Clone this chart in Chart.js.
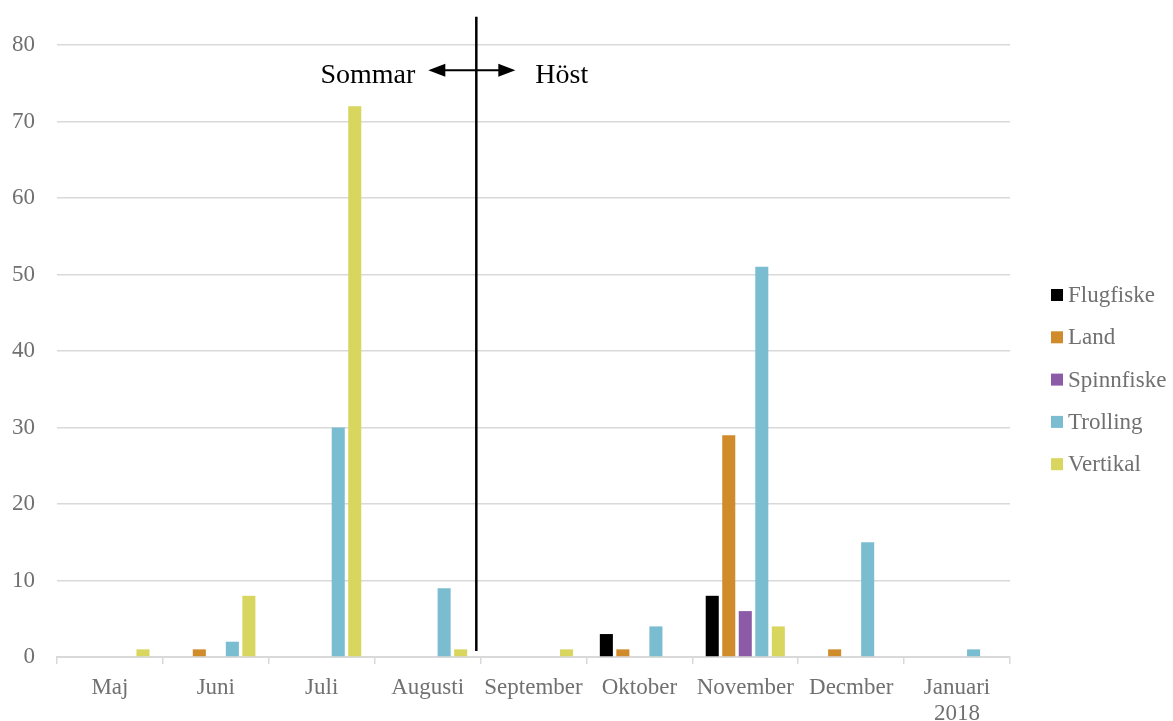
<!DOCTYPE html>
<html>
<head>
<meta charset="utf-8">
<script src="https://cdn.jsdelivr.net/npm/chart.js@4/dist/chart.umd.min.js"></script>
<style>
    body { margin: 0; background: #ffffff; }
    #wrap { width: 1173px; height: 721px; }
</style>
</head>
<body>
<div id="wrap"><canvas id="fangstChart" width="1173" height="721"></canvas></div>
<script>

// Månader (x-axel)
const months = ["Maj", "Juni", "Juli", "Augusti", "September", "Oktober", "November", "Decmber", ["Januari", "2018"]];

// Antal per fiskemetod och månad
const flugfiske  = [0, 0, 0, 0, 0, 3, 8, 0, 0];
const land       = [0, 1, 0, 0, 0, 1, 29, 1, 0];
const spinnfiske = [0, 0, 0, 0, 0, 0, 6, 0, 0];
const trolling   = [0, 2, 30, 9, 0, 4, 51, 15, 1];
const vertikal   = [1, 8, 72, 1, 1, 0, 4, 0, 0];

const yTicks = { min: 0, max: 80, step: 10 };

const TEXT_GRAY = "#707070";
const GRID_GRAY = "#d9d9d9";
const SERIF = "'Liberation Serif', 'Times New Roman', serif";

/* ==========================================================
   SÄSONGSGRÄNS: linje + pilar mellan Augusti och September
========================================================== */

const seasonPlugin = {

    id: "seasonDivider",

    afterDatasetsDraw(chart) {

        const { ctx, scales: { x, y } } = chart;

        const lineX = x.getPixelForValue(3.46);
        const top = y.getPixelForValue(83.7);
        const bottom = y.getPixelForValue(0.8);
        const arrowY = y.getPixelForValue(76.7);

        ctx.save();

        ctx.strokeStyle = "#000000";
        ctx.fillStyle = "#000000";

        ctx.lineWidth = 2.5;
        ctx.beginPath();
        ctx.moveTo(lineX, top);
        ctx.lineTo(lineX, bottom);
        ctx.stroke();

        // dubbelpil
        const left = lineX - 48;
        const right = lineX + 39;
        const head = 17;
        const half = 6.5;

        ctx.lineWidth = 2;
        ctx.beginPath();
        ctx.moveTo(left + head - 2, arrowY);
        ctx.lineTo(right - head + 2, arrowY);
        ctx.stroke();

        ctx.beginPath();
        ctx.moveTo(left, arrowY);
        ctx.lineTo(left + head, arrowY - half);
        ctx.lineTo(left + head, arrowY + half);
        ctx.closePath();
        ctx.fill();

        ctx.beginPath();
        ctx.moveTo(right, arrowY);
        ctx.lineTo(right - head, arrowY - half);
        ctx.lineTo(right - head, arrowY + half);
        ctx.closePath();
        ctx.fill();

        ctx.font = "28px " + SERIF;
        ctx.textBaseline = "middle";

        ctx.textAlign = "right";
        ctx.fillText("Sommar", lineX - 61, arrowY + 5);

        ctx.textAlign = "left";
        ctx.fillText("Höst", lineX + 59, arrowY + 5);

        ctx.restore();

    }

};

/* ==========================================================
   LEGEND (höger sida)
========================================================== */

const sideLegendPlugin = {

    id: "sideLegend",

    afterDraw(chart) {

        const { ctx } = chart;
        const x0 = chart.chartArea.right + 41;
        const y0 = 295;
        const step = 42.3;

        ctx.save();
        ctx.font = "23px " + SERIF;
        ctx.textBaseline = "middle";
        ctx.textAlign = "left";

        chart.data.datasets.forEach((ds, i) => {
            const cy = y0 + i * step;
            ctx.fillStyle = ds.backgroundColor;
            ctx.fillRect(x0, cy - 6, 12, 12);
            ctx.fillStyle = TEXT_GRAY;
            ctx.fillText(ds.label, x0 + 17, cy + 1);
        });

        ctx.restore();

    }

};

const datasets = [
    { label: "Flugfiske",  data: flugfiske,  backgroundColor: "#000000" },
    { label: "Land",       data: land,       backgroundColor: "#d08b2a" },
    { label: "Spinnfiske", data: spinnfiske, backgroundColor: "#8c5ba7" },
    { label: "Trolling",   data: trolling,   backgroundColor: "#7abdd0" },
    { label: "Vertikal",   data: vertikal,   backgroundColor: "#d8d65e" }
];

new Chart(document.getElementById("fangstChart"), {

    type: "bar",

    data: {
        labels: months,
        datasets: datasets.map(ds => ({
            ...ds,
            categoryPercentage: 0.78,
            barPercentage: 0.79,
            borderWidth: 0
        }))
    },

    options: {

        responsive: false,
        animation: false,

        layout: {
            padding: { left: 0, right: 163, top: 45, bottom: 0 }
        },

        plugins: {
            legend: { display: false },
            tooltip: { enabled: false }
        },

        scales: {

            x: {
                grid: {
                    offset: true,
                    drawOnChartArea: false,
                    drawTicks: true,
                    tickLength: 7,
                    color: GRID_GRAY,
                    lineWidth: 1.5
                },
                border: { color: GRID_GRAY, width: 2 },
                ticks: {
                    color: TEXT_GRAY,
                    font: { family: SERIF, size: 23, lineHeight: 1.13 },
                    padding: 11,
                    maxRotation: 0,
                    autoSkip: false
                },
                afterFit(scale) {
                    scale.height = 64;
                }
            },

            y: {
                min: yTicks.min,
                max: yTicks.max,
                grid: {
                    color: GRID_GRAY,
                    lineWidth: 1.5,
                    drawTicks: false
                },
                border: { display: false },
                ticks: {
                    stepSize: yTicks.step,
                    color: TEXT_GRAY,
                    font: { family: SERIF, size: 23 },
                    padding: 22
                },
                afterFit(scale) {
                    scale.width = 57;
                }
            }

        }

    },

    plugins: [seasonPlugin, sideLegendPlugin]

});

</script>
</body>
</html>
